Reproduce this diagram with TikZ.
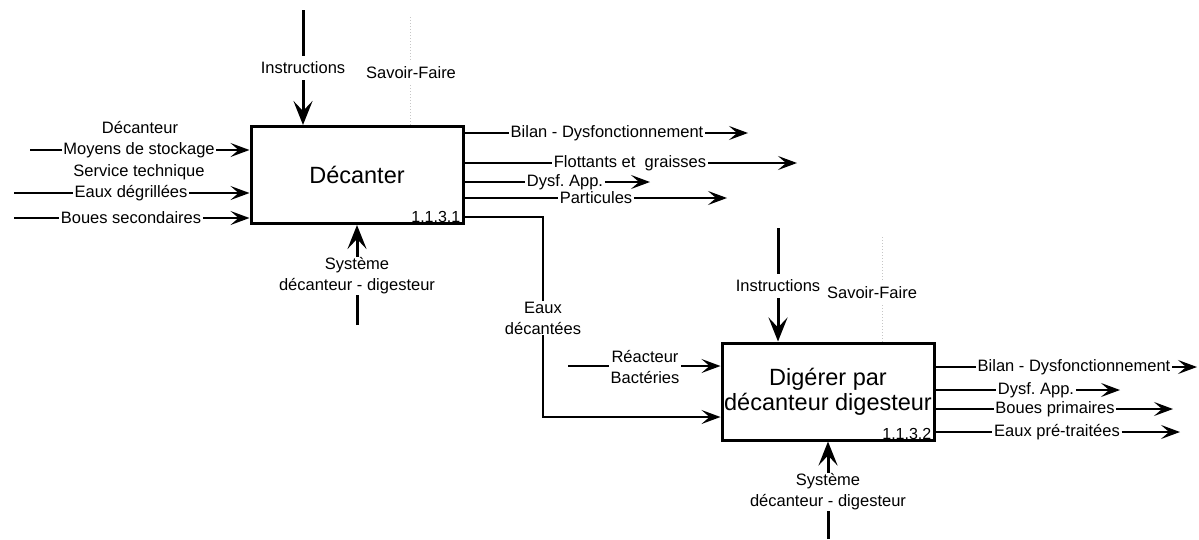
\documentclass[tikz,border=0pt]{standalone}
\usepackage{fontspec}
\setmainfont{Liberation Sans}
\usetikzlibrary{positioning,arrows.meta}

\begin{document}
\frenchspacing
\begin{tikzpicture}[
    x=1pt, y=-1pt,
    activity/.style={rectangle, draw, line width=3pt, fill=white,
        minimum width=212pt, minimum height=97pt, align=center, inner sep=0pt,
        font=\fontsize{23.5}{25}\selectfont},
    lbl/.style={fill=white, inner xsep=1.5pt, inner ysep=1pt, align=center,
        font=\fontsize{16.5}{21}\selectfont},
    vlbl/.style={lbl, inner ysep=6pt},
    code/.style={inner sep=1pt, font=\fontsize{16}{17}\selectfont},
    wire/.style={line width=1.8pt},
    flow/.style={wire, -{Stealth[length=19pt, width=14pt, inset=8pt]}},
    ctrl/.style={line width=3pt},
    ctrlflow/.style={ctrl, -{Stealth[length=24pt, width=19pt, inset=10pt]}},
    know/.style={gray!45, line width=1pt, dotted},
]
\useasboundingbox (0,0) rectangle (1199,539);

% activities
\node[activity] (d1) at (357,175) {Décanter};
\node[activity] (d2) at (828,391.5) {Digérer par\\décanteur digesteur};
\node[code, above left=1pt and 3pt of d1.south east] (c1) {1.1.3.1};
\node[code, above left=1pt and 3pt of d2.south east] (c2) {1.1.3.2};

% controls, knowledge and mechanism of d1
\coordinate (i1) at (303,10);
\node[vlbl] (il1) at (303,68) {Instructions};
\draw[ctrl] (i1) -- (il1);
\draw[ctrlflow] (il1) -- (il1 |- d1.north);
\coordinate (s1) at (410,17);
\node[vlbl] (sl1) at (411,73) {Savoir-Faire};
\draw[know] (s1) -- (s1 |- sl1.north);
\draw[know] (s1 |- sl1.south) -- (s1 |- d1.north);
\coordinate (m1) at (357,325);
\node[lbl] (ml1) at (357,276) {Système\\décanteur - digesteur};
\draw[ctrl] (m1) -- (ml1);
\draw[ctrlflow] (ml1) -- (ml1 |- d1.south);

% inputs of d1
\node[lbl] (dec) at (140,128) {Décanteur};
\coordinate (a1) at (30,150);
\node[lbl] (ms) at (139,150) {Moyens de stockage};
\draw[wire] (a1) -- (ms);
\draw[flow] (ms) -- (ms -| d1.west);
\node[lbl] (st) at (139,172) {Service technique};
\coordinate (a2) at (14,193);
\node[lbl] (eg) at (131,193) {Eaux dégrillées};
\draw[wire] (a2) -- (eg);
\draw[flow] (eg) -- (eg -| d1.west);
\coordinate (a3) at (14,218);
\node[lbl] (bs) at (131,218) {Boues secondaires};
\draw[wire] (a3) -- (bs);
\draw[flow] (bs) -- (bs -| d1.west);

% outputs of d1
\node[lbl] (bd1) at (607,133) {Bilan - Dysfonctionnement};
\coordinate (bd1e) at (748,133);
\draw[wire] (bd1 -| d1.east) -- (bd1);
\draw[flow] (bd1) -- (bd1e);
\node[lbl] (fg) at (630,163) {Flottants et~ graisses};
\coordinate (fge) at (797,163);
\draw[wire] (fg -| d1.east) -- (fg);
\draw[flow] (fg) -- (fge);
\node[lbl] (pa) at (596,198) {Particules};
\coordinate (pae) at (727,198);
\draw[wire] (pa -| d1.east) -- (pa);
\draw[flow] (pa) -- (pae);
\node[lbl] (da1) at (565,182) {Dysf. App.};
\coordinate (da1e) at (650,182);
\draw[wire] (da1 -| d1.east) -- (da1);
\draw[flow] (da1) -- (da1e);

% d1 -> d2
\coordinate (edk) at (543,217);
\coordinate (edin) at (0,417);
\node[lbl] (edc) at (543,318) {Eaux\\décantées};
\draw[wire] (d1.east |- edk) -- (edk) -- (edk |- edc.north);
\draw[flow] (edk |- edc.south) |- (d2.west |- edin);

% controls, knowledge and mechanism of d2
\coordinate (i2) at (778,228);
\node[vlbl] (il2) at (778,286) {Instructions};
\draw[ctrl] (i2) -- (il2);
\draw[ctrlflow] (il2) -- (il2 |- d2.north);
\coordinate (s2) at (882,237);
\node[vlbl] (sl2) at (872,293) {Savoir-Faire};
\draw[know] (s2) -- (s2 |- sl2.north);
\draw[know] (s2 |- sl2.south) -- (s2 |- d2.north);
\coordinate (m2) at (828,539);
\node[lbl] (ml2) at (828,492) {Système\\décanteur - digesteur};
\draw[ctrl] (m2) -- (ml2);
\draw[ctrlflow] (ml2) -- (ml2 |- d2.south);

% inputs of d2
\coordinate (a4) at (568,366);
\node[lbl] (rb) at (645,367) {Réacteur\\Bactéries};
\draw[wire] (a4) -- (a4 -| rb.west);
\draw[flow] (rb.east |- a4) -- (a4 -| d2.west);

% outputs of d2
\node[lbl] (bd2) at (1074,367) {Bilan - Dysfonctionnement};
\coordinate (bd2e) at (1197,367);
\draw[wire] (bd2 -| d2.east) -- (bd2);
\draw[flow] (bd2) -- (bd2e);
\node[lbl] (da2) at (1036,390) {Dysf. App.};
\coordinate (da2e) at (1120,390);
\draw[wire] (da2 -| d2.east) -- (da2);
\draw[flow] (da2) -- (da2e);
\node[lbl] (bp) at (1055,409) {Boues primaires};
\coordinate (bpe) at (1173,409);
\draw[wire] (bp -| d2.east) -- (bp);
\draw[flow] (bp) -- (bpe);
\node[lbl] (ep) at (1057,432) {Eaux pré-traitées};
\coordinate (epe) at (1180,432);
\draw[wire] (ep -| d2.east) -- (ep);
\draw[flow] (ep) -- (epe);
\end{tikzpicture}
\end{document}
